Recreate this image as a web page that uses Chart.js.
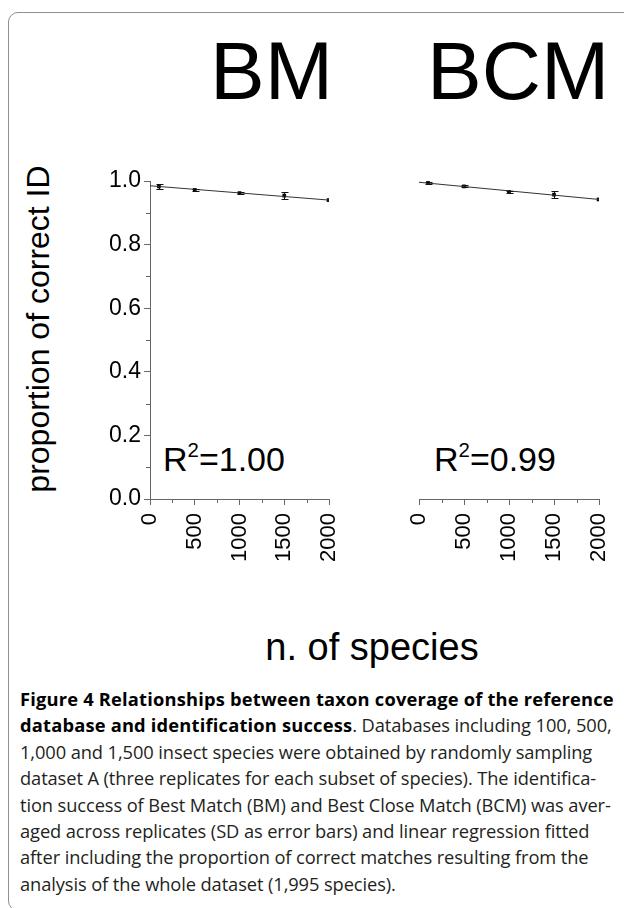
<!DOCTYPE html>
<html>
<head>
<meta charset="utf-8">
<script src="https://cdn.jsdelivr.net/npm/chart.js@4"></script>
<style>
  html, body { margin: 0; padding: 0; background: #fff; }
  body { width: 624px; height: 908px; position: relative; overflow: hidden; }
  .frame {
    position: absolute; left: 8px; top: 12px; width: 700px; height: 897px;
    border: 1px solid #8f8f8f; border-radius: 10px;
  }
  .t { position: absolute; white-space: nowrap; line-height: 1; color: #000;
       font-family: "Liberation Sans", Arial, sans-serif; }
  canvas { position: absolute; }
  .caption {
    position: absolute; left: 20px; top: 686px; width: 600px;
    font-family: "Open Sans", "Noto Sans", sans-serif; font-size: 18.3px; line-height: 26.4px;
    color: #231f20; white-space: nowrap; letter-spacing: -0.1px;
  }
  .caption b { font-weight: bold; color: #000; letter-spacing: 0.2px; }
  sup { font-size: 60%; position: relative; top: -0.1em; }
</style>
</head>
<body>
<div class="frame"></div>

<div class="t" style="left:210px; top:30px; font-size:82px;">BM</div>
<div class="t" style="left:427px; top:30px; font-size:82px;">BCM</div>

<div class="t" style="left:38px; top:329px; font-size:32px; transform: translate(-50%,-50%) rotate(-90deg);">proportion of correct ID</div>

<div class="t" style="left:163px; top:442px; font-size:34px;">R<sup>2</sup>=1.00</div>
<div class="t" style="left:434px; top:442px; font-size:34px;">R<sup>2</sup>=0.99</div>

<div class="t" style="left:372px; top:628px; font-size:38px; transform: translateX(-50%);">n. of species</div>

<canvas id="bm" width="370" height="440" style="left:0; top:150px;"></canvas>
<canvas id="bcm" width="300" height="440" style="left:340px; top:150px;"></canvas>

<div class="caption">
<b>Figure 4 Relationships between taxon coverage of the reference</b><br>
<b>database and identification success</b>. Databases including 100, 500,<br>
1,000 and 1,500 insect species were obtained by randomly sampling<br>
dataset A (three replicates for each subset of species). The identifica-<br>
tion success of Best Match (BM) and Best Close Match (BCM) was aver-<br>
aged across replicates (SD as error bars) and linear regression fitted<br>
after including the proportion of correct matches resulting from the<br>
analysis of the whole dataset (1,995 species).
</div>

<script>
// number of species in each reference database
const sizes = [100, 500, 1000, 1500, 1995];

// Best Match: mean proportion of correct ID and SD
const bmMean = [0.983, 0.972, 0.962, 0.954, 0.940];
const bmSd = [0.007, 0.003, 0.003, 0.010, 0];

// Best Close Match
const bcmMean = [0.994, 0.983, 0.966, 0.957, 0.942];
const bcmSd = [0.002, 0.003, 0.003, 0.011, 0];

// fitted regression lines (ends of the x range)
const fitX = [0, 2000];
const bmFit = [0.985, 0.940];
const bcmFit = [0.996, 0.942];

// ticks
const xTicks = [0, 500, 1000, 1500, 2000];
const xMinor = [250, 750, 1250, 1750];
const yTicks = [0, 0.2, 0.4, 0.6, 0.8, 1.0];
const yMinor = [0.1, 0.3, 0.5, 0.7, 0.9];

const AXIS = '#666';
const FONT = "'Liberation Sans', Arial, sans-serif";

const errorBars = {
  id: 'errorBars',
  afterDatasetsDraw(chart, args, opts) {
    const { ctx, scales: { x, y } } = chart;
    ctx.save();
    ctx.strokeStyle = '#111';
    ctx.lineWidth = 1;
    sizes.forEach((s, i) => {
      const sd = opts.sds[i];
      if (!sd) return;
      const px = Math.round(x.getPixelForValue(s)) + 0.5;
      const top = Math.round(y.getPixelForValue(opts.means[i] + sd)) + 0.5;
      const bot = Math.round(y.getPixelForValue(opts.means[i] - sd)) + 0.5;
      ctx.beginPath();
      ctx.moveTo(px, top); ctx.lineTo(px, bot);
      ctx.moveTo(px - 3, top); ctx.lineTo(px + 4, top);
      ctx.moveTo(px - 3, bot); ctx.lineTo(px + 4, bot);
      ctx.stroke();
    });
    ctx.restore();
  }
};

// short minor ticks between the labelled ones
const minorTicks = {
  id: 'minorTicks',
  afterDraw(chart) {
    const { ctx, scales: { x, y } } = chart;
    ctx.save();
    ctx.strokeStyle = AXIS;
    ctx.lineWidth = 1;
    ctx.beginPath();
    xMinor.forEach(v => {
      const px = Math.round(x.getPixelForValue(v)) + 0.5;
      ctx.moveTo(px, x.top);
      ctx.lineTo(px, x.top + 4);
    });
    if (y.options.display) {
      yMinor.forEach(v => {
        const py = Math.round(y.getPixelForValue(v)) + 0.5;
        ctx.moveTo(y.right, py);
        ctx.lineTo(y.right - 4, py);
      });
    }
    ctx.stroke();
    ctx.restore();
  }
};

function makeChart(id, means, sds, fit, showY, padding) {
  return new Chart(document.getElementById(id), {
    data: {
      datasets: [{
        type: 'line',
        data: fitX.map((v, i) => ({ x: v, y: fit[i] })),
        borderColor: '#333',
        borderWidth: 1,
        pointRadius: 0
      }, {
        type: 'scatter',
        data: sizes.map((v, i) => ({ x: v, y: means[i] })),
        pointStyle: 'rect',
        pointRadius: 2.6,
        backgroundColor: '#000',
        borderWidth: 0
      }]
    },
    options: {
      responsive: false,
      animation: false,
      layout: { padding },
      plugins: {
        legend: { display: false },
        tooltip: { enabled: false },
        errorBars: { means, sds }
      },
      scales: {
        x: {
          type: 'linear',
          min: 0, max: 2000,
          afterBuildTicks: s => { s.ticks = xTicks.map(v => ({ value: v })); },
          afterFit: s => { s.height = 91; },
          border: { color: AXIS, width: 1 },
          grid: { drawOnChartArea: false, tickLength: 6, color: AXIS },
          ticks: {
            autoSkip: false, minRotation: 90, maxRotation: 90, padding: 8,
            color: '#000', font: { family: FONT, size: 22 },
            callback: v => String(v)
          }
        },
        y: {
          type: 'linear',
          display: showY,
          min: 0, max: 1,
          afterBuildTicks: s => { s.ticks = yTicks.map(v => ({ value: v })); },
          afterFit: s => { s.width = showY ? 150 : 0; },
          border: { color: AXIS, width: 1 },
          grid: { drawOnChartArea: false, tickLength: 6, color: AXIS },
          ticks: {
            padding: 3, color: '#000', font: { family: FONT, size: 23 },
            callback: v => v.toFixed(1)
          }
        }
      }
    },
    plugins: [errorBars, minorTicks]
  });
}

makeChart('bm', bmMean, bmSd, bmFit, true, { left: 0, top: 31, right: 41, bottom: 0 });
makeChart('bcm', bcmMean, bcmSd, bcmFit, false, { left: 79, top: 31, right: 41, bottom: 0 });
</script>
</body>
</html>
